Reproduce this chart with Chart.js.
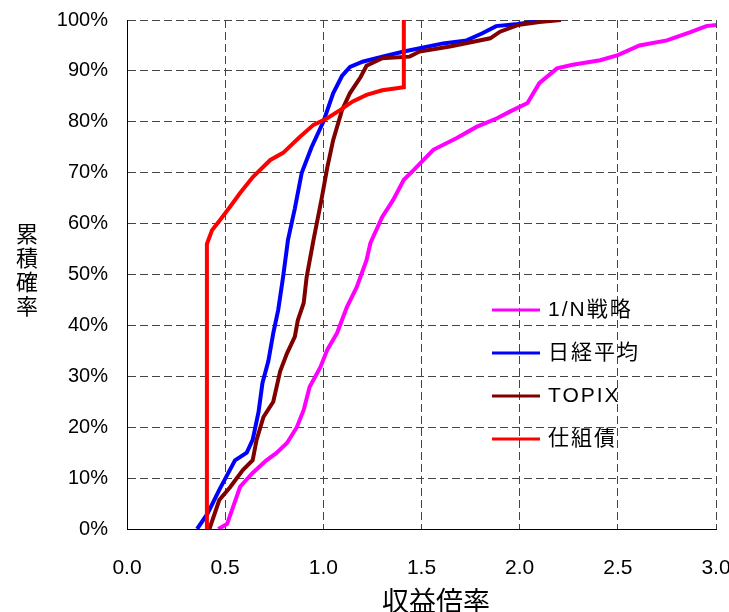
<!DOCTYPE html>
<html>
<head>
<meta charset="utf-8">
<script src="https://cdn.jsdelivr.net/npm/chart.js@4/dist/chart.umd.min.js"></script>
<style>
	body { margin: 0; background: #fff; }
	#wrap { width: 729px; height: 612px; }
</style>
</head>
<body>
<div id="wrap"><canvas id="chart" width="729" height="612"></canvas></div>
<script>
// 1/N戦略
const equalX = [0.465, 0.51, 0.54, 0.576, 0.64, 0.71, 0.76, 0.815, 0.865, 0.9, 0.93, 0.985, 1.02, 1.07, 1.12, 1.17, 1.22, 1.24, 1.30, 1.355, 1.41, 1.46, 1.56, 1.68, 1.78, 1.885, 1.95, 2.04, 2.10, 2.19, 2.27, 2.41, 2.50, 2.61, 2.75, 2.87, 2.95, 3.0];
const equalY = [0, 1, 4.3, 8.3, 11, 13.5, 14.9, 16.9, 20, 23.4, 27.9, 31.8, 35.2, 38.5, 43.6, 47.5, 52.8, 56.2, 61.3, 64.6, 68.6, 70.5, 74.5, 76.8, 79, 80.7, 82, 83.7, 87.6, 90.5, 91.2, 92.1, 93.1, 95, 96, 97.6, 98.8, 99];

// 日経平均
const nikkeiX = [0.357, 0.41, 0.47, 0.55, 0.61, 0.64, 0.67, 0.69, 0.72, 0.745, 0.77, 0.795, 0.82, 0.855, 0.89, 0.94, 1.0, 1.05, 1.095, 1.136, 1.2, 1.30, 1.41, 1.61, 1.73, 1.81, 1.88, 1.99, 2.14];
const nikkeiY = [0, 3, 7.7, 13.5, 15, 17.5, 23, 28.7, 33, 38.5, 43, 49.5, 56.8, 63, 70, 75, 80, 85.6, 89, 90.8, 91.8, 92.8, 93.8, 95.4, 96, 97.4, 98.8, 99.2, 100];

// TOPIX
const topixX = [0.42, 0.47, 0.525, 0.59, 0.64, 0.66, 0.695, 0.745, 0.78, 0.815, 0.855, 0.87, 0.9, 0.915, 0.95, 0.99, 1.02, 1.05, 1.095, 1.135, 1.19, 1.22, 1.30, 1.44, 1.49, 1.645, 1.85, 1.90, 1.99, 2.10, 2.21];
const topixY = [0, 5.7, 8.2, 11.6, 13.5, 17.5, 22, 25, 31, 34.5, 37.8, 41, 44.4, 49.5, 56.8, 64.6, 71, 76.4, 82.3, 85.6, 88.8, 91, 92.5, 92.8, 93.8, 94.8, 96.4, 97.7, 99, 99.6, 100];

// 仕組債
const bondX = [0.407, 0.407, 0.433, 0.474, 0.525, 0.576, 0.642, 0.73, 0.795, 0.88, 0.95, 1.02, 1.085, 1.15, 1.22, 1.30, 1.41, 1.41];
const bondY = [0, 56, 58.7, 60.7, 63.3, 66, 69.2, 72.5, 73.9, 77, 79.4, 80.7, 82.3, 84, 85.3, 86.2, 86.8, 100];

const seriesNames = ["1/N戦略", "日経平均", "TOPIX", "仕組債"];
const seriesColors = ["#ff00ff", "#0000ff", "#800000", "#ff0000"];

const xTitle = "収益倍率";
const yTitle = "累積確率";

const jpFont = "'Noto Sans CJK JP', sans-serif";
const numFont = "'Liberation Sans', Arial, sans-serif";

function toPoints(xs, ys) {
	return xs.map((x, i) => ({ x: x, y: ys[i] }));
}

// axis titles and legend box inside the plot
const extrasPlugin = {
	id: "extras",
	afterDraw(chart) {
		const ctx = chart.ctx;
		const area = chart.chartArea;
		ctx.save();
		ctx.fillStyle = "#000";
		ctx.textAlign = "center";
		ctx.textBaseline = "middle";

		// y title, one character per line
		ctx.font = "22px " + jpFont;
		[...yTitle].forEach((ch, i) => {
			ctx.fillText(ch, 27, 234 + i * 24);
		});

		// x title, sits a bit right of centre like the original
		ctx.font = "27px " + jpFont;
		ctx.fillText(xTitle, 436, 601);

		// legend
		const lx = area.left + 365;
		const ly = area.top + 290;
		ctx.font = "21px 'Liberation Sans', 'Noto Sans CJK JP', sans-serif";
		ctx.letterSpacing = "2px";
		ctx.textAlign = "left";
		chart.data.datasets.forEach((ds, i) => {
			const y = ly + i * 43;
			ctx.strokeStyle = ds.borderColor;
			ctx.lineWidth = 3;
			ctx.beginPath();
			ctx.moveTo(lx, y);
			ctx.lineTo(lx + 48, y);
			ctx.stroke();
			ctx.fillText(ds.label, lx + 56, y);
		});
		ctx.restore();
	},
};

const ctx = document.getElementById("chart").getContext("2d");
const chart = new Chart(ctx, {
	type: "scatter",
	data: {
		datasets: [
			{ label: seriesNames[0], data: toPoints(equalX, equalY), borderColor: seriesColors[0], order: 3 },
			{ label: seriesNames[1], data: toPoints(nikkeiX, nikkeiY), borderColor: seriesColors[1], order: 2 },
			{ label: seriesNames[2], data: toPoints(topixX, topixY), borderColor: seriesColors[2], order: 1 },
			{ label: seriesNames[3], data: toPoints(bondX, bondY), borderColor: seriesColors[3], order: 0 },
		].map(ds => Object.assign(ds, {
			showLine: true,
			borderWidth: 4,
			pointRadius: 0,
			tension: 0,
			backgroundColor: ds.borderColor,
		})),
	},
	options: {
		responsive: false,
		animation: false,
		layout: { padding: { top: 20, right: 13, left: 0, bottom: 0 } },
		plugins: {
			legend: { display: false },
			tooltip: { enabled: false },
		},
		scales: {
			x: {
				type: "linear",
				min: 0,
				max: 3,
				grid: { color: "#444", lineWidth: 1, drawTicks: false },
				border: { display: true, color: "#000", width: 1, dash: [8, 4] },
				ticks: {
					stepSize: 0.5,
					padding: 27,
					color: "#000",
					font: { family: numFont, size: 21 },
					callback: v => v.toFixed(1),
				},
				afterFit: scale => {
					scale.height = 83;
					scale.paddingLeft = 0;
					scale.paddingRight = 0;
				},
			},
			y: {
				type: "linear",
				min: 0,
				max: 100,
				grid: { color: "#444", lineWidth: 1, drawTicks: false },
				border: { display: true, color: "#000", width: 1, dash: [8, 4] },
				ticks: {
					stepSize: 10,
					padding: 19,
					color: "#000",
					font: { family: numFont, size: 20 },
					callback: v => v + "%",
				},
				afterFit: scale => {
					scale.width = 127;
					scale.paddingTop = 0;
					scale.paddingBottom = 0;
				},
			},
		},
	},
	plugins: [extrasPlugin],
});
</script>
</body>
</html>
